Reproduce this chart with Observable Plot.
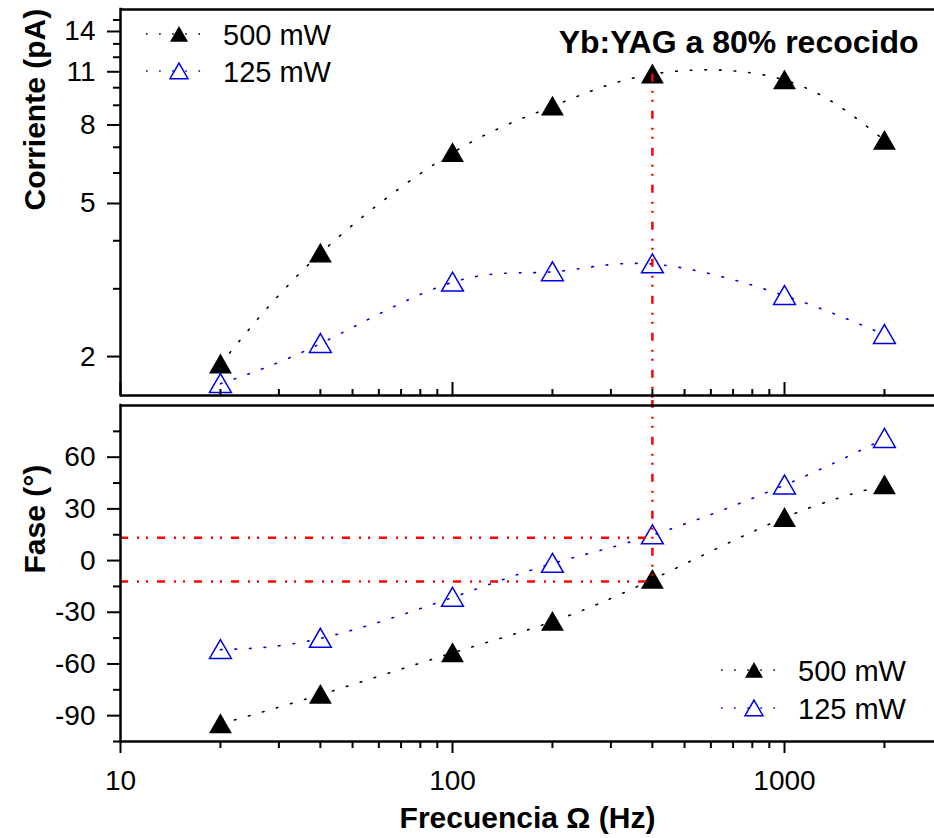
<!DOCTYPE html>
<html><head><meta charset="utf-8">
<script src="https://cdn.jsdelivr.net/npm/d3@7"></script>
<script src="https://cdn.jsdelivr.net/npm/@observablehq/plot@0.6"></script>
<style>
body{margin:0;background:#fff}
#wrap{position:relative;width:934px;height:838px;font-family:"Liberation Sans",Arial,Helvetica,sans-serif}
#wrap svg{display:block}
</style></head><body><div id="wrap"></div>
<script>
// ---- data ----
const freq = [20, 40, 100, 200, 400, 1000, 2000];
const series = ["500 mW", "125 mW"];
const current500 = [1.91, 3.71, 6.77, 8.94, 10.84, 10.47, 7.29];
const current125 = [1.70, 2.16, 3.12, 3.32, 3.48, 2.88, 2.28];
const phase500 = [-94.8, -77.8, -53.6, -35.4, -11.0, 24.9, 43.8];
const phase125 = [-51.7, -45.2, -21.4, -1.7, 14.8, 43.8, 70.8];
const markFreq = 400;
const markCurrent = 10.84;
const markPhases = [13.3, -12.2];
const title = "Yb:YAG a 80% recocido";
const xLabel = "Frecuencia Ω (Hz)";
const yTopLabel = "Corriente (pA)";
const yBotLabel = "Fase (°)";

// ---- axes ----
const xDomain = [10, 2830];
const xMajor = [10, 100, 1000];
const xMinor = [20, 30, 40, 50, 60, 70, 80, 90, 200, 300, 400, 500, 600, 700, 800, 900, 2000];
const curDomain = [1.584, 15.97];
const curMajor = [2, 5, 8, 11, 14];
const curMinor = [3, 4, 6, 7, 9, 10, 12, 13, 15];
const phaseDomain = [-105, 90];
const phaseMajor = [-90, -60, -30, 0, 30, 60];
const phaseMinor = [-105, -75, -45, -15, 15, 45, 75];

const FONT = "'Liberation Sans', Arial, Helvetica, sans-serif";
const BLUE = "#0000e6";
const RED = "#ff0000";
const DOTS = "1.6,13";
const REDDASH = "8,9,2,7,2,9";
const colors = ["#000", BLUE];

const top500 = freq.map((f, i) => ({f, v: current500[i]}));
const top125 = freq.map((f, i) => ({f, v: current125[i]}));
const bot500 = freq.map((f, i) => ({f, v: phase500[i]}));
const bot125 = freq.map((f, i) => ({f, v: phase125[i]}));

const fmt = d => String(d);
const style = {fontFamily: FONT, fontSize: "28px", color: "#000", background: "white"};
const filled = {symbol: "triangle", r: 8.5, fill: "#000", stroke: "none", dy: 2.6};
const open = {symbol: "triangle", r: 8.1, fill: "none", stroke: BLUE, strokeWidth: 1.5, dy: 2.5};

const topPlot = Plot.plot({
  width: 934, height: 400, marginTop: 9, marginBottom: 5, marginLeft: 120, marginRight: 0,
  style,
  x: {type: "log", domain: xDomain},
  y: {type: "log", domain: curDomain},
  marks: [
    Plot.line(top500, {x: "f", y: "v", curve: "natural", stroke: "#000", strokeWidth: 1.6, strokeDasharray: DOTS}),
    Plot.line(top125, {x: "f", y: "v", curve: "natural", stroke: BLUE, strokeWidth: 1.6, strokeDasharray: DOTS}),
    Plot.dot(top500, {x: "f", y: "v", ...filled}),
    Plot.dot(top125, {x: "f", y: "v", ...open}),
    Plot.ruleX([markFreq], {y1: markCurrent, y2: 1.5, stroke: RED, strokeWidth: 2.5, strokeDasharray: REDDASH}),
    Plot.ruleY([curDomain[1], curDomain[0]], {stroke: "#000", strokeWidth: 2.5}),
    Plot.ruleX([xDomain[0]], {stroke: "#000", strokeWidth: 2.5, strokeLinecap: "square"}),
    Plot.axisX(xMajor, {anchor: "bottom", tickSize: 13, dy: -13, tickFormat: () => "", label: null, strokeWidth: 2}),
    Plot.axisX(xMinor, {anchor: "bottom", tickSize: 6, dy: -6, tickFormat: () => "", label: null, strokeWidth: 2}),
    Plot.axisY(curMajor, {anchor: "left", tickSize: 13, tickPadding: 12, tickFormat: fmt, fontSize: 28, label: null, strokeWidth: 2}),
    Plot.axisY(curMinor, {anchor: "left", tickSize: 7, tickFormat: () => "", label: null, strokeWidth: 2}),
    Plot.text([yTopLabel], {frameAnchor: "left", dx: -85, dy: 8, rotate: -90, fontWeight: "bold", fontSize: 30}),
    Plot.text([title], {frameAnchor: "top-right", dx: -16, dy: 21, textAnchor: "end", lineAnchor: "top", fontWeight: "bold", fontSize: 32})
  ]
});

const botPlot = Plot.plot({
  width: 934, height: 438, marginTop: 5, marginBottom: 97, marginLeft: 120, marginRight: 0,
  style,
  x: {type: "log", domain: xDomain},
  y: {domain: phaseDomain},
  marks: [
    Plot.line(bot500, {x: "f", y: "v", curve: "natural", stroke: "#000", strokeWidth: 1.6, strokeDasharray: DOTS}),
    Plot.line(bot125, {x: "f", y: "v", curve: "natural", stroke: BLUE, strokeWidth: 1.6, strokeDasharray: DOTS}),
    Plot.dot(bot500, {x: "f", y: "v", ...filled}),
    Plot.dot(bot125, {x: "f", y: "v", ...open}),
    Plot.ruleX([markFreq], {y1: 93, y2: markPhases[1], stroke: RED, strokeWidth: 2.5, strokeDasharray: REDDASH}),
    Plot.ruleY(markPhases, {x1: xDomain[0], x2: markFreq, stroke: RED, strokeWidth: 2.5, strokeDasharray: REDDASH}),
    Plot.ruleY([phaseDomain[1], phaseDomain[0]], {stroke: "#000", strokeWidth: 2.5}),
    Plot.ruleX([xDomain[0]], {stroke: "#000", strokeWidth: 2.5, strokeLinecap: "square"}),
    Plot.axisX(xMajor, {anchor: "bottom", tickSize: 12, tickPadding: 17, tickFormat: fmt, fontSize: 28, label: null, strokeWidth: 2}),
    Plot.axisX(xMinor, {anchor: "bottom", tickSize: 7, tickFormat: () => "", label: null, strokeWidth: 2}),
    Plot.axisY(phaseMajor, {anchor: "left", tickSize: 13, tickPadding: 12, tickFormat: fmt, fontSize: 28, label: null, strokeWidth: 2}),
    Plot.axisY(phaseMinor, {anchor: "left", tickSize: 7, tickFormat: () => "", label: null, strokeWidth: 2}),
    Plot.text([yBotLabel], {frameAnchor: "left", dx: -85, rotate: -90, fontWeight: "bold", fontSize: 30}),
    Plot.text([xLabel], {frameAnchor: "bottom", dy: 86, lineAnchor: "bottom", fontWeight: "bold", fontSize: 30})
  ]
});

const wrap = document.getElementById("wrap");
wrap.appendChild(topPlot);
wrap.appendChild(botPlot);

// ---- legends (overlay) ----
const ov = d3.select(wrap).append("svg")
  .attr("width", 934).attr("height", 838)
  .style("position", "absolute").style("left", "0px").style("top", "0px")
  .style("pointer-events", "none")
  .attr("font-family", FONT).attr("font-size", 29);
const tri = d3.symbol(d3.symbolTriangle, 140)();
function legend(x0, rows) {
  rows.forEach((y, i) => {
    const g = ov.append("g").attr("transform", `translate(${x0},${y})`);
    g.append("line").attr("x1", 0).attr("x2", 64).attr("y1", 0).attr("y2", 0)
      .attr("stroke", colors[i]).attr("stroke-width", 1.6).attr("stroke-dasharray", "1.6,11.5");
    g.append("path").attr("d", tri).attr("transform", "translate(33,2.5)")
      .attr("fill", i === 0 ? "#000" : "white").attr("stroke", i === 0 ? "none" : BLUE).attr("stroke-width", 1.5);
    g.append("text").attr("x", 77).attr("y", 11).attr("fill", "#000").text(series[i]);
  });
}
legend(146, [34, 71]);
legend(721, [670, 708]);
</script></body></html>
